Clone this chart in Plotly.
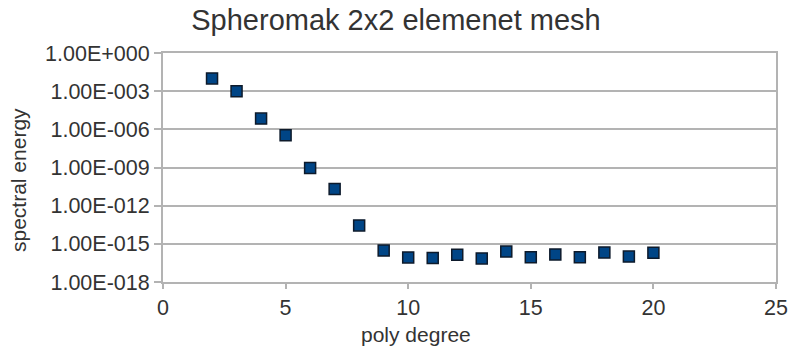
import plotly.graph_objects as go

poly_degree = [2, 3, 4, 5, 6, 7, 8, 9, 10, 11, 12, 13, 14, 15, 16, 17, 18, 19, 20]
spectral_energy = [1.0e-2, 1.0e-3, 7.0e-6, 3.5e-7, 9.0e-10, 2.0e-11, 2.8e-14, 3.0e-16,
                   8.5e-17, 7.6e-17, 1.4e-16, 7.1e-17, 2.5e-16, 8.9e-17, 1.45e-16,
                   8.9e-17, 2.1e-16, 1.0e-16, 2.0e-16]
y_tickvals = [1e0, 1e-3, 1e-6, 1e-9, 1e-12, 1e-15, 1e-18]
y_ticktext = ["1.00E+000", "1.00E-003", "1.00E-006", "1.00E-009", "1.00E-012", "1.00E-015", "1.00E-018"]
x_tickvals = [0, 5, 10, 15, 20, 25]

W, H = 791, 346
FONT = "Liberation Sans, Arial, sans-serif"
GRID = "#b3b3b3"
TXT = "#333333"

PL, PR, PT, PB = 163, 776, 53, 282  # target plot box in window pixels

fig = go.Figure(go.Scatter(
    x=poly_degree, y=spectral_energy, mode="markers",
    marker=dict(symbol="square", size=11, color="#004586",
                line=dict(color="#0d1a2b", width=1.5)),
    showlegend=False, cliponaxis=False,
))

fig.update_layout(
    width=W, height=H,
    paper_bgcolor="white", plot_bgcolor="white",
    margin=dict(l=PL, r=W - PR, t=PT, b=H - PB, autoexpand=False),
    font=dict(family=FONT, color=TXT),
    title=dict(text="Spheromak 2x2 elemenet mesh", x=396 / W, xanchor="center",
               y=1 - 20 / H, yanchor="middle", yref="container",
               font=dict(size=29, color=TXT, family=FONT)),
    annotations=[
        dict(text="poly degree", xref="paper", yref="paper",
             x=(416 - PL) / (PR - PL), y=-(334 - PB) / (PB - PT),
             xanchor="center", yanchor="middle", showarrow=False,
             font=dict(size=21, color=TXT, family=FONT)),
        dict(text="spectral energy", xref="paper", yref="paper",
             x=-(PL - 18) / (PR - PL), y=(PB - 180) / (PB - PT),
             xanchor="center", yanchor="middle", showarrow=False, textangle=-90,
             font=dict(size=21, color=TXT, family=FONT)),
    ],
)
fig.update_xaxes(
    range=[0, 25], tickvals=x_tickvals, showgrid=False, automargin=False,
    showline=True, linecolor=GRID, linewidth=2, mirror=True,
    ticks="outside", ticklen=5, tickcolor=GRID, tickwidth=2,
    tickfont=dict(size=21.5, color=TXT, family=FONT),
    zeroline=False,
)
fig.update_yaxes(
    type="log", range=[-18, 0], tickvals=y_tickvals, ticktext=y_ticktext,
    showgrid=True, gridcolor=GRID, gridwidth=2, automargin=False,
    showline=True, linecolor=GRID, linewidth=2, mirror=True,
    ticks="outside", ticklen=7, tickcolor=GRID, tickwidth=2,
    tickfont=dict(size=21.5, color=TXT, family=FONT),
    zeroline=False,
)

# remove the browser's default 8px body margin so the figure sits at (0, 0)
fig.write_html("out.html", config={"displayModeBar": False},
               post_script="document.body.style.margin='0';")
